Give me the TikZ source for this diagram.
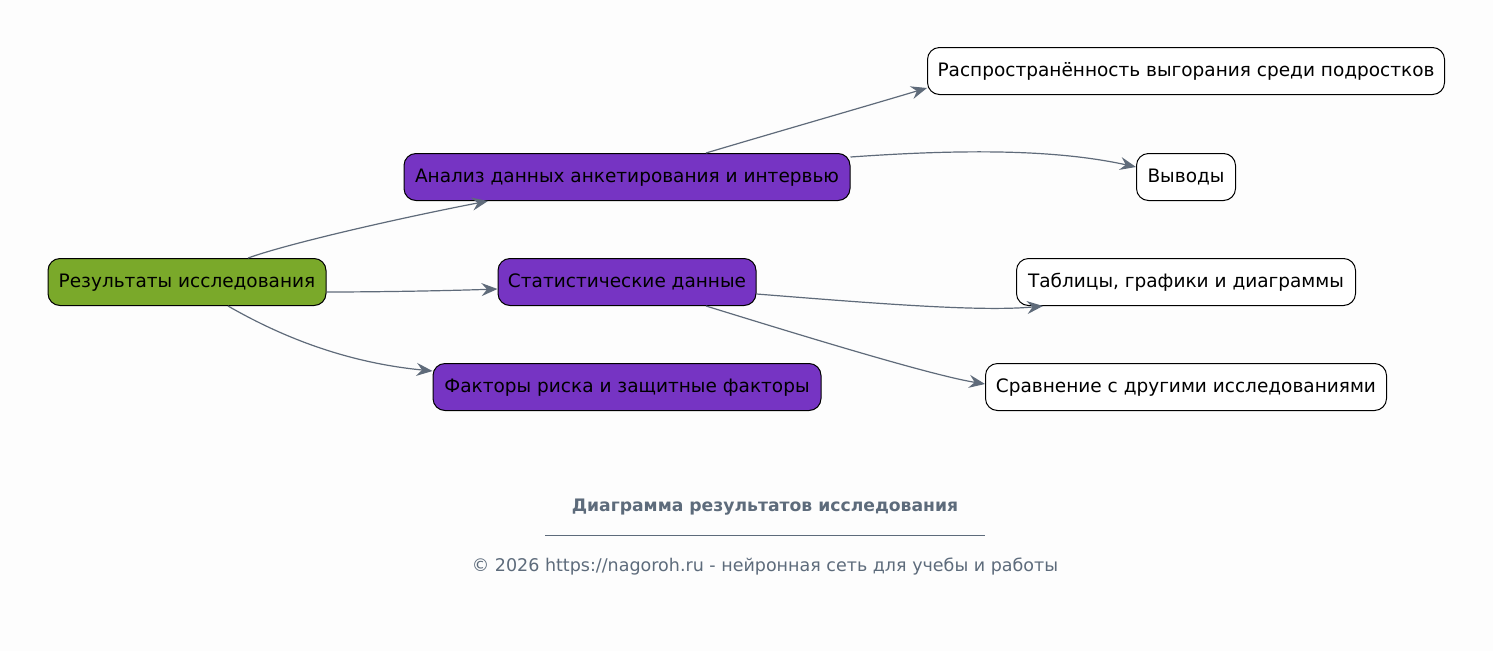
\documentclass[tikz,border=0pt]{standalone}
\usepackage{fontspec}
\setmainfont{DejaVu Sans}
\usetikzlibrary{arrows.meta,calc}
\definecolor{bgc}{HTML}{FDFDFD}
\definecolor{rootg}{HTML}{7AA92A}
\definecolor{midp}{HTML}{7634C3}
\definecolor{edgec}{HTML}{5F6B7A}
\definecolor{titlec}{HTML}{5D6B7B}
\tikzset{
  basebox/.style={draw=black, line width=1pt, rounded corners=12pt, minimum height=47pt, inner xsep=8pt, text height=12pt, text depth=2pt, font=\fontsize{18.5}{21}\selectfont, text=black},
  rootbox/.style={basebox, fill=rootg},
  midbox/.style={basebox, fill=midp},
  leafbox/.style={basebox, fill=white},
  conn/.style={draw=edgec, line width=1.2pt, -{Stealth[length=16pt,width=13pt,inset=5.5pt]}},
}
\begin{document}
\begin{tikzpicture}[x=1pt,y=-1pt]
\fill[bgc] (0,0) rectangle (1493,651);
\useasboundingbox (0,0) rectangle (1493,651);
\node[rootbox, minimum width=278pt] (r) at (187,282) {Результаты исследования};
\node[midbox, minimum width=446pt] (a) at (627,177) {Анализ данных анкетирования и интервью};
\node[midbox, minimum width=258pt] (s) at (627,282) {Статистические данные};
\node[midbox, minimum width=388pt] (f) at (627,387) {Факторы риска и защитные факторы};
\node[leafbox, minimum width=517pt] (p) at (1186,71) {Распространённость выгорания среди подростков};
\node[leafbox, minimum width=99pt] (v) at (1186,177) {Выводы};
\node[leafbox, minimum width=339pt] (t) at (1186,282) {Таблицы, графики и диаграммы};
\node[leafbox, minimum width=401pt] (c) at (1186,387) {Сравнение с другими исследованиями};

\draw[conn] ([xshift=61pt]r.north) .. controls (290,243) and (400,218) .. ([xshift=-139pt]a.south);
\draw[conn] ([yshift=-10pt]r.east) .. controls (370,292) and (440,291) .. ([yshift=-7pt]s.west);
\draw[conn] ([xshift=41pt]r.south) .. controls (275,333) and (340,362) .. ([yshift=16pt]f.west);
\draw[conn] ([xshift=79pt]a.north) .. controls (780,131) and (860,108) .. ([yshift=-17pt]p.west);
\draw[conn] ([yshift=20pt]a.east) .. controls (950,150) and (1050,148) .. ([yshift=10pt]v.west);
\draw[conn] ([yshift=-12pt]s.east) .. controls (870,303) and (980,312) .. ([xshift=-143pt]t.south);
\draw[conn] ([xshift=79pt]s.south) .. controls (800,335) and (930,375) .. ([yshift=3pt]c.west);

\node[font=\bfseries\fontsize{17.2}{20}\selectfont, text=titlec] (title) at (765,507) {Диаграмма результатов исследования};
\coordinate (l1) at (545,535);
\coordinate (l2) at (985,535);
\draw[titlec, line width=0.6pt] (l1) -- (l2);
\node[font=\fontsize{17.5}{20}\selectfont, text=titlec] (foot) at (765,567) {© 2026 https://nagoroh.ru - нейронная сеть для учебы и работы};
\end{tikzpicture}
\end{document}
